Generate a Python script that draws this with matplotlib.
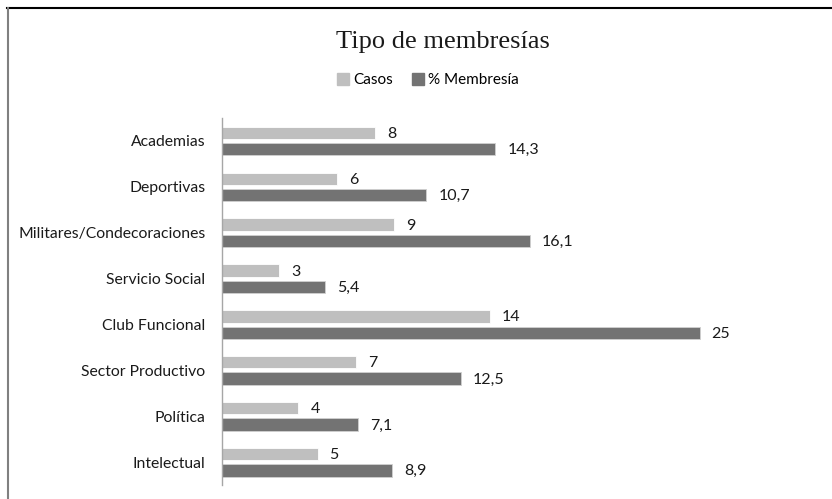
import matplotlib
matplotlib.use('Agg')
import matplotlib.pyplot as plt
from matplotlib.lines import Line2D
from matplotlib.patches import Patch
import numpy as np

## datos del grafico
categorias = ['Academias', 'Deportivas', 'Militares/Condecoraciones', 'Servicio Social',
              'Club Funcional', 'Sector Productivo', 'Política', 'Intelectual']
casos = [8, 6, 9, 3, 14, 7, 4, 5]
membresia = [14.3, 10.7, 16.1, 5.4, 25, 12.5, 7.1, 8.9]
series = ['Casos', '% Membresía']

claro = '#BFBFBF'
oscuro = '#737373'
fuente = ['Lato', 'DejaVu Sans']

plt.rcParams['font.family'] = fuente

fig = plt.figure(figsize=(8.32, 4.99), dpi=100)
W, H = 832, 499
ax = fig.add_axes([222/W, 1-485/H, (757-222)/W, (485-118)/H])

y = np.arange(len(categorias))
h = 0.27
b1 = ax.barh(y - 0.175, casos, height=h, color=claro, edgecolor='white', linewidth=0.6)
b2 = ax.barh(y + 0.18, membresia, height=h, color=oscuro, edgecolor='#D0D0D0', linewidth=0.6)

def etiqueta(v):
    return ('%g' % v).replace('.', ',')

for barras, vals in ((b1, casos), (b2, membresia)):
    for b, v in zip(barras, vals):
        ax.annotate(etiqueta(v), (b.get_width(), b.get_y() + b.get_height()/2),
                    xytext=(12, -1), textcoords='offset pixels',
                    ha='left', va='center', fontsize=11.5, color='#1A1A1A')

ax.set_xlim(0, 28)
ax.set_ylim(len(categorias) - 0.5, -0.5)
ax.set_yticks(y)
ax.set_yticklabels(categorias, fontsize=11.3, color='#1A1A1A')
ax.tick_params(axis='y', length=0, pad=12)
ax.set_xticks([])
for s in ('top', 'right', 'bottom'):
    ax.spines[s].set_visible(False)
ax.spines['left'].set_color('#A6A6A6')
ax.spines['left'].set_linewidth(1)

## titulo y leyenda
fig.text(443/W, 1-42/H, 'Tipo de membresías', ha='center', va='center',
         fontsize=19, family=['Liberation Serif', 'DejaVu Serif'], color='#1A1A1A')
manejadores = [Patch(color=claro), Patch(color=oscuro)]
fig.legend(manejadores, series, loc='center', bbox_to_anchor=(428/W, 1-80/H), ncol=2,
           frameon=False, handlelength=0.8, handleheight=0.8, handletextpad=0.3,
           columnspacing=1.2, prop={'size': 11, 'family': fuente})

## marco parcial del grafico
fig.add_artist(Line2D([7/W, 1], [1-8/H, 1-8/H], color='black', lw=1.5, transform=fig.transFigure))
fig.add_artist(Line2D([8/W, 8/W], [0, 1-8/H], color='#808080', lw=1.5, transform=fig.transFigure))

fig.savefig('out.png', dpi=100)
